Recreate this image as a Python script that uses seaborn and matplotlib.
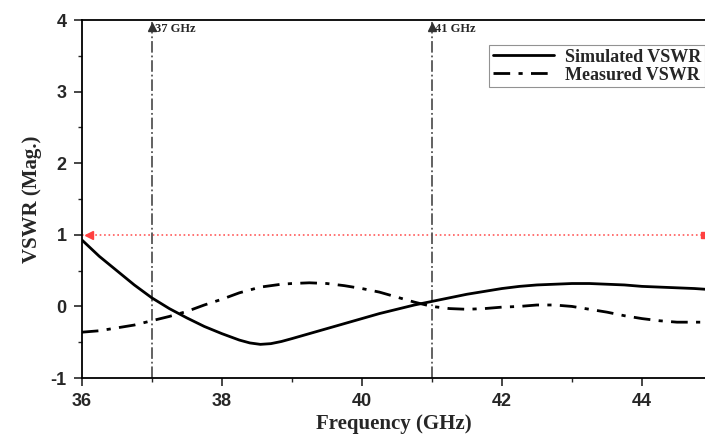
"""
Simulated vs measured VSWR
"""
import numpy as np
import matplotlib
matplotlib.use("Agg")
import matplotlib.pyplot as plt
from matplotlib.ticker import MultipleLocator
import seaborn as sns
import pandas as pd

freq = [36.0, 36.25, 36.5, 36.75, 37.0, 37.25, 37.5, 37.75, 38.0, 38.25, 38.4, 38.55, 38.7,
        38.85, 39.0, 39.25, 39.5, 39.75, 40.0, 40.25, 40.5, 40.75, 41.0, 41.25, 41.5, 41.75,
        42.0, 42.25, 42.5, 42.75, 43.0, 43.25, 43.5, 43.75, 44.0, 44.25, 44.5, 44.75, 44.9]
simulated = [0.93, 0.70, 0.50, 0.30, 0.12, -0.03, -0.16, -0.28, -0.38, -0.47, -0.51, -0.53, -0.52,
             -0.49, -0.45, -0.38, -0.31, -0.24, -0.17, -0.10, -0.04, 0.02, 0.07, 0.12, 0.17, 0.21,
             0.25, 0.28, 0.30, 0.31, 0.32, 0.32, 0.31, 0.30, 0.28, 0.27, 0.26, 0.25, 0.24]
measured = [-0.36, -0.34, -0.30, -0.26, -0.20, -0.14, -0.07, 0.02, 0.10, 0.19, 0.23, 0.27, 0.29,
            0.31, 0.32, 0.33, 0.32, 0.29, 0.25, 0.20, 0.13, 0.06, 0.00, -0.03, -0.04, -0.03,
            -0.01, 0.00, 0.02, 0.02, 0.00, -0.04, -0.08, -0.13, -0.17, -0.20, -0.22, -0.22, -0.22]
markers_ghz = [37, 41]
ref_level = 1

df = pd.DataFrame({"freq": freq, "Simulated VSWR": simulated, "Measured VSWR": measured})

sns.set_style("ticks")
plt.rcParams["axes.unicode_minus"] = False
serif = ["Liberation Serif", "DejaVu Serif"]
sans = ["Liberation Sans", "DejaVu Sans"]

fig = plt.figure(figsize=(7.05, 4.37), dpi=100)
ax = fig.add_axes([0.116, 0.135, 0.884, 0.819])

# reference line at VSWR = 1
ax.plot([freq[0], freq[-1]], [ref_level, ref_level], color="#ff5a5a", lw=1.2, ls=":")
ax.plot(freq[0] + 0.1, ref_level, marker="<", color="#ff4040", ms=6)
ax.plot(freq[-1] - 0.02, ref_level, marker="s", color="#ff4040", ms=4)

# band edge markers
for f in markers_ghz:
    ax.axvline(f, color="#555555", lw=1.3, ls="-.")
    ax.plot(f, 3.9, marker="^", color="#333333", ms=6)
    ax.text(f + 0.05, 3.87, f"{f} GHz", fontsize=9, fontweight="bold", family=serif,
            va="center", ha="left")

sns.lineplot(data=df, x="freq", y="Simulated VSWR", ax=ax, color="black", lw=2,
             label="Simulated VSWR")
sns.lineplot(data=df, x="freq", y="Measured VSWR", ax=ax, color="black", lw=2,
             linestyle=(0, (6, 3, 1.5, 3)), label="Measured VSWR")

ax.set_xlim(36, 44.9)
ax.set_ylim(-1, 4)
ax.xaxis.set_major_locator(MultipleLocator(2))
ax.xaxis.set_minor_locator(MultipleLocator(1))
ax.yaxis.set_major_locator(MultipleLocator(1))
ax.yaxis.set_minor_locator(MultipleLocator(0.5))
ax.tick_params(which="major", direction="out", length=6, width=1.2, pad=5)
ax.tick_params(which="minor", direction="out", length=3, width=1.0)
for lab in ax.get_xticklabels() + ax.get_yticklabels():
    lab.set_fontfamily(sans)
    lab.set_fontweight("bold")
    lab.set_fontsize(13)

for side in ["left", "bottom", "top"]:
    ax.spines[side].set_linewidth(1.3)
    ax.spines[side].set_color("black")
ax.spines["right"].set_visible(False)

ax.set_xlabel("Frequency (GHz)", fontsize=15, fontweight="bold", family=serif, labelpad=3)
ax.set_ylabel("VSWR (Mag.)", fontsize=15, fontweight="bold", family=serif, labelpad=6)

leg = ax.legend(loc="upper right", bbox_to_anchor=(1.0, 0.93), frameon=True, fancybox=False,
                prop={"family": serif, "weight": "bold", "size": 13},
                handlelength=3.4, borderpad=0.2, labelspacing=0.05, handletextpad=0.6,
                borderaxespad=0)
leg.get_frame().set_edgecolor("#777777")
leg.get_frame().set_linewidth(0.8)

fig.savefig("out.png", dpi=100)
